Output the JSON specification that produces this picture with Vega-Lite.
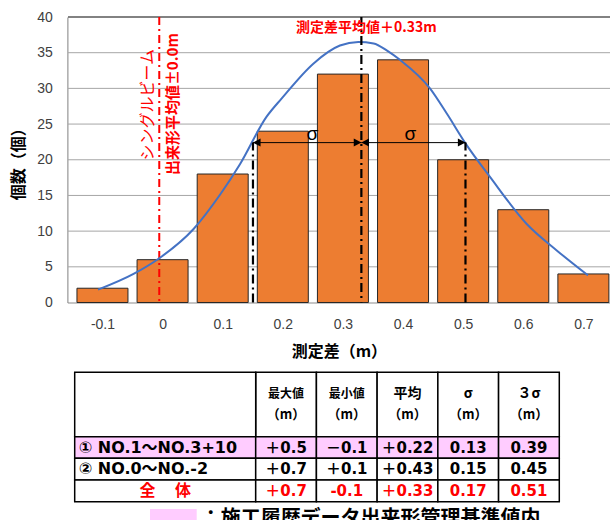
{
  "$schema": "https://vega.github.io/schema/vega-lite/v6.json",
  "width": 543,
  "height": 285.5,
  "autosize": {"type": "none"},
  "padding": {"left": 67.4, "top": 17, "right": 0, "bottom": 217.5},
  "background": "white",
  "config": {"view": {"stroke": null}, "font": "Noto Sans CJK JP"},
  "datasets": {
    "度数": [
      {"測定差": -0.1, "個数": 2},
      {"測定差": 0, "個数": 6},
      {"測定差": 0.1, "個数": 18},
      {"測定差": 0.2, "個数": 24},
      {"測定差": 0.3, "個数": 32},
      {"測定差": 0.4, "個数": 34},
      {"測定差": 0.5, "個数": 20},
      {"測定差": 0.6, "個数": 13},
      {"測定差": 0.7, "個数": 4}
    ],
    "分布曲線": [
      {"測定差": -0.1, "個数": 1.8},
      {"測定差": -0.042, "個数": 4.0},
      {"測定差": 0, "個数": 6.2},
      {"測定差": 0.056, "個数": 10.3},
      {"測定差": 0.1, "個数": 15.2},
      {"測定差": 0.132, "個数": 19.4},
      {"測定差": 0.175, "個数": 26.0},
      {"測定差": 0.2, "個数": 28.6},
      {"測定差": 0.252, "個数": 33.5},
      {"測定差": 0.295, "個数": 36.0},
      {"測定差": 0.325, "個数": 36.5},
      {"測定差": 0.35, "個数": 36.3},
      {"測定差": 0.372, "個数": 35.3},
      {"測定差": 0.393, "個数": 34.0},
      {"測定差": 0.442, "個数": 30.0},
      {"測定差": 0.47, "個数": 26.4},
      {"測定差": 0.5, "個数": 22.3},
      {"測定差": 0.54, "個数": 17.6},
      {"測定差": 0.6, "個数": 11.0},
      {"測定差": 0.649, "個数": 7.3},
      {"測定差": 0.7, "個数": 3.8}
    ],
    "目盛線": [
      {"目盛": 5, "測定差": -0.149}, {"目盛": 5, "測定差": 0.736},
      {"目盛": 10, "測定差": -0.149}, {"目盛": 10, "測定差": 0.736},
      {"目盛": 15, "測定差": -0.149}, {"目盛": 15, "測定差": 0.736},
      {"目盛": 20, "測定差": -0.149}, {"目盛": 20, "測定差": 0.736},
      {"目盛": 25, "測定差": -0.149}, {"目盛": 25, "測定差": 0.736},
      {"目盛": 30, "測定差": -0.149}, {"目盛": 30, "測定差": 0.736},
      {"目盛": 35, "測定差": -0.149}, {"目盛": 35, "測定差": 0.736}
    ],
    "枠": [
      {"目盛": 40, "測定差": -0.149}, {"目盛": 40, "測定差": 0.736}
    ],
    "σ区間": [
      {"始点": 0.153, "終点": 0.33},
      {"始点": 0.33, "終点": 0.5}
    ],
    "σ線": [
      {"位置": 0.153},
      {"位置": 0.5}
    ],
    "σ記号": [
      {"記号": "σ", "位置": 0.25},
      {"記号": "σ", "位置": 0.41}
    ],
    "平均値": [
      {"平均": 0.33, "ラベル": "測定差平均値＋0.33m"}
    ],
    "基準": [
      {"出来形平均値": 0, "行1": "シングルビーム", "行2": "出来形平均値±0.0m"}
    ],
    "集計表": [
      {"区分": "① NO.1～NO.3+10", "最大値": "＋0.5", "最小値": "－0.1", "平均": "＋0.22", "σ": "0.13", "３σ": "0.39", "基準値内": true, "全体": false},
      {"区分": "② NO.0～NO.-2", "最大値": "＋0.7", "最小値": "＋0.1", "平均": "＋0.43", "σ": "0.15", "３σ": "0.45", "基準値内": false, "全体": false},
      {"区分": "全　 体", "最大値": "＋0.7", "最小値": "-0.1", "平均": "＋0.33", "σ": "0.17", "３σ": "0.51", "基準値内": false, "全体": true}
    ]
  },
  "resolve": {"scale": {"x": "independent", "y": "independent"}},
  "layer": [
    {
      "data": {"name": "目盛線"},
      "mark": {"type": "line", "color": "#A6A6A6", "strokeWidth": 1},
      "encoding": {
        "x": {"field": "測定差", "type": "quantitative", "scale": {"domain": [-0.15, 0.7366], "nice": false, "zero": false}, "axis": null},
        "y": {"field": "目盛", "type": "quantitative", "scale": {"domain": [0, 40], "nice": false}, "axis": null},
        "detail": {"field": "目盛", "type": "nominal"}
      }
    },
    {
      "data": {"name": "枠"},
      "mark": {"type": "line", "color": "#595959", "strokeWidth": 1.5},
      "encoding": {
        "x": {"field": "測定差", "type": "quantitative", "scale": {"domain": [-0.15, 0.7366], "nice": false, "zero": false}, "axis": null},
        "y": {"field": "目盛", "type": "quantitative", "scale": {"domain": [0, 40], "nice": false}, "axis": null}
      }
    },
    {
      "data": {"name": "度数"},
      "mark": {"type": "bar", "orient": "vertical", "width": 51, "fill": "#ED7D31", "stroke": "#262626", "strokeWidth": 1},
      "encoding": {
        "x": {
          "field": "測定差", "type": "quantitative",
          "scale": {"domain": [-0.15, 0.7366], "nice": false, "zero": false},
          "axis": {
            "values": [-0.1, 0, 0.1, 0.2, 0.3, 0.4, 0.5, 0.6, 0.7],
            "labelExpr": "datum.value < 0 ? '-' + format(-datum.value, '.1f') : (datum.value == 0 ? '0' : format(datum.value, '.1f'))",
            "grid": false, "ticks": false, "tickSize": 0, "labelPadding": 15,
            "labelFont": "Liberation Sans", "labelFontSize": 14, "labelColor": "#404040",
            "labelFlush": false, "labelOverlap": false,
            "domainColor": "#8c8c8c",
            "title": "測定差（m）", "titleFontSize": 16, "titleFontWeight": "bold", "titleColor": "black", "titlePadding": 12
          }
        },
        "y": {
          "field": "個数", "type": "quantitative",
          "scale": {"domain": [0, 40], "nice": false},
          "axis": {
            "values": [0, 5, 10, 15, 20, 25, 30, 35, 40],
            "grid": false,
            "ticks": false, "tickSize": 0, "labelPadding": 15,
            "labelFont": "Liberation Sans", "labelFontSize": 14, "labelColor": "#404040",
            "domainColor": "#808080",
            "title": "個数（個）", "titleFontSize": 16, "titleFontWeight": "bold", "titleColor": "black", "titlePadding": 10
          }
        }
      }
    },
    {
      "data": {"name": "基準"},
      "mark": {"type": "rule", "color": "#FF0000", "strokeWidth": 2, "strokeDash": [8, 4, 2, 4]},
      "encoding": {
        "x": {"field": "出来形平均値", "type": "quantitative", "scale": {"domain": [-0.15, 0.7366], "nice": false, "zero": false}, "axis": null}
      }
    },
    {
      "data": {"name": "分布曲線"},
      "mark": {"type": "line", "interpolate": "monotone", "color": "#4472C4", "strokeWidth": 2},
      "encoding": {
        "x": {"field": "測定差", "type": "quantitative", "scale": {"domain": [-0.15, 0.7366], "nice": false, "zero": false}, "axis": null},
        "y": {"field": "個数", "type": "quantitative", "scale": {"domain": [0, 40], "nice": false}, "axis": null}
      }
    },
    {
      "data": {"name": "平均値"},
      "mark": {"type": "rule", "color": "black", "strokeWidth": 2.2, "strokeDash": [9, 4, 2, 4]},
      "encoding": {
        "x": {"field": "平均", "type": "quantitative", "scale": {"domain": [-0.15, 0.7366], "nice": false, "zero": false}, "axis": null}
      }
    },
    {
      "data": {"name": "σ線"},
      "mark": {"type": "rule", "color": "black", "strokeWidth": 2.2, "strokeDash": [9, 4, 2, 4]},
      "encoding": {
        "x": {"field": "位置", "type": "quantitative", "scale": {"domain": [-0.15, 0.7366], "nice": false, "zero": false}, "axis": null},
        "y": {"datum": 0, "type": "quantitative", "scale": {"domain": [0, 40], "nice": false}, "axis": null},
        "y2": {"datum": 22.4}
      }
    },
    {
      "data": {"name": "σ区間"},
      "mark": {"type": "rule", "color": "black", "strokeWidth": 1},
      "encoding": {
        "x": {"field": "始点", "type": "quantitative", "scale": {"domain": [-0.15, 0.7366], "nice": false, "zero": false}, "axis": null},
        "x2": {"field": "終点"},
        "y": {"datum": 22.4, "type": "quantitative", "scale": {"domain": [0, 40], "nice": false}, "axis": null}
      }
    },
    {
      "data": {"name": "σ区間"},
      "mark": {"type": "point", "shape": "M0,0L1.9,-1L1.9,1Z", "size": 64, "filled": true, "color": "black", "opacity": 1},
      "encoding": {
        "x": {"field": "始点", "type": "quantitative", "scale": {"domain": [-0.15, 0.7366], "nice": false, "zero": false}, "axis": null},
        "y": {"datum": 22.4, "type": "quantitative", "scale": {"domain": [0, 40], "nice": false}, "axis": null}
      }
    },
    {
      "data": {"name": "σ区間"},
      "mark": {"type": "point", "shape": "M0,0L-1.9,-1L-1.9,1Z", "size": 64, "filled": true, "color": "black", "opacity": 1},
      "encoding": {
        "x": {"field": "終点", "type": "quantitative", "scale": {"domain": [-0.15, 0.7366], "nice": false, "zero": false}, "axis": null},
        "y": {"datum": 22.4, "type": "quantitative", "scale": {"domain": [0, 40], "nice": false}, "axis": null}
      }
    },
    {
      "data": {"name": "σ記号"},
      "mark": {"type": "text", "font": "Liberation Sans", "fontSize": 19, "color": "black", "baseline": "middle"},
      "encoding": {
        "x": {"field": "位置", "type": "quantitative", "scale": {"domain": [-0.15, 0.7366], "nice": false, "zero": false}, "axis": null},
        "y": {"datum": 23.6, "type": "quantitative", "scale": {"domain": [0, 40], "nice": false}, "axis": null},
        "text": {"field": "記号"}
      }
    },
    {
      "data": {"name": "平均値"},
      "mark": {"type": "text", "fontSize": 14, "fontWeight": "bold", "color": "#FF0000", "baseline": "middle", "dx": 5},
      "encoding": {
        "x": {"field": "平均", "type": "quantitative", "scale": {"domain": [-0.15, 0.7366], "nice": false, "zero": false}, "axis": null},
        "y": {"datum": 38.4, "type": "quantitative", "scale": {"domain": [0, 40], "nice": false}, "axis": null},
        "text": {"field": "ラベル"}
      }
    },
    {
      "data": {"name": "基準"},
      "mark": {"type": "text", "angle": 270, "fontSize": 16, "color": "#FF0000", "baseline": "middle", "dy": -11},
      "encoding": {
        "x": {"field": "出来形平均値", "type": "quantitative", "scale": {"domain": [-0.15, 0.7366], "nice": false, "zero": false}, "axis": null},
        "y": {"datum": 27.7, "type": "quantitative", "scale": {"domain": [0, 40], "nice": false}, "axis": null},
        "text": {"field": "行1"}
      }
    },
    {
      "data": {"name": "基準"},
      "mark": {"type": "text", "angle": 270, "fontSize": 15, "fontWeight": "bold", "color": "#FF0000", "baseline": "middle", "dy": 14},
      "encoding": {
        "x": {"field": "出来形平均値", "type": "quantitative", "scale": {"domain": [-0.15, 0.7366], "nice": false, "zero": false}, "axis": null},
        "y": {"datum": 27.8, "type": "quantitative", "scale": {"domain": [0, 40], "nice": false}, "axis": null},
        "text": {"field": "行2"}
      }
    },
    {
      "data": {"name": "集計表"},
      "transform": [
        {"fold": ["最大値", "最小値", "平均", "σ", "３σ"], "as": ["列", "値"]},
        {"filter": "datum['全体']"}
      ],
      "encoding": {
        "x": {"field": "列", "type": "nominal", "sort": null, "scale": {"range": [188.3, 491.9], "paddingInner": 0, "paddingOuter": 0}, "axis": null},
        "y": {"datum": 0, "type": "quantitative", "scale": {"domain": [0, 1], "range": [355.3, 419.7]}, "axis": null}
      },
      "layer": [
        {
          "mark": {"type": "rect", "fill": "white", "stroke": "black", "strokeWidth": 1.5},
          "encoding": {"y2": {"datum": 1}}
        },
        {
          "mark": {"type": "text", "fontWeight": "bold", "color": "black", "baseline": "middle", "dy": -10.5},
          "encoding": {
            "y": {"datum": 0.5, "type": "quantitative", "scale": {"domain": [0, 1], "range": [355.3, 419.7]}, "axis": null},
            "text": {"field": "列"},
            "size": {"condition": {"test": "length(datum['列']) > 2", "value": 12}, "value": 14}
          }
        },
        {
          "mark": {"type": "text", "fontWeight": "bold", "color": "black", "baseline": "middle", "dy": 10.5, "fontSize": 13},
          "encoding": {
            "y": {"datum": 0.5, "type": "quantitative", "scale": {"domain": [0, 1], "range": [355.3, 419.7]}, "axis": null},
            "text": {"value": "（m）"}
          }
        }
      ]
    },
    {
      "data": {"name": "集計表"},
      "transform": [{"filter": "datum['全体']"}],
      "mark": {"type": "rect", "fill": "white", "stroke": "black", "strokeWidth": 1.5},
      "encoding": {
        "x": {"datum": 0, "type": "quantitative", "scale": {"domain": [0, 1], "range": [7.3, 188.3]}, "axis": null},
        "x2": {"datum": 1},
        "y": {"datum": 0, "type": "quantitative", "scale": {"domain": [0, 1], "range": [355.3, 419.7]}, "axis": null},
        "y2": {"datum": 1}
      }
    },
    {
      "data": {"name": "集計表"},
      "encoding": {
        "x": {"datum": 0, "type": "quantitative", "scale": {"domain": [0, 1], "range": [7.3, 188.3]}, "axis": null},
        "y": {"field": "区分", "type": "nominal", "sort": null, "scale": {"domain": ["① NO.1～NO.3+10", "② NO.0～NO.-2", "全　 体"], "range": [419.7, 484.7], "paddingInner": 0, "paddingOuter": 0}, "axis": null}
      },
      "layer": [
        {
          "mark": {"type": "rect", "stroke": "black", "strokeWidth": 1.5},
          "encoding": {
            "x2": {"datum": 1},
            "fill": {"condition": {"test": "datum['基準値内']", "value": "#FFCCFF"}, "value": "white"}
          }
        },
        {
          "transform": [{"filter": "!datum['全体']"}],
          "mark": {"type": "text", "align": "left", "dx": 4, "font": "DejaVu Sans, Noto Sans CJK JP", "fontSize": 16, "fontWeight": "bold", "color": "black"},
          "encoding": {"text": {"field": "区分"}}
        },
        {
          "transform": [{"filter": "datum['全体']"}],
          "mark": {"type": "text", "align": "center", "fontSize": 16, "fontWeight": "bold", "color": "#FF0000"},
          "encoding": {
            "x": {"datum": 0.5, "type": "quantitative", "scale": {"domain": [0, 1], "range": [7.3, 188.3]}, "axis": null},
            "text": {"field": "区分"}
          }
        }
      ]
    },
    {
      "data": {"name": "集計表"},
      "transform": [{"fold": ["最大値", "最小値", "平均", "σ", "３σ"], "as": ["列", "値"]}],
      "encoding": {
        "x": {"field": "列", "type": "nominal", "sort": null, "scale": {"range": [188.3, 491.9], "paddingInner": 0, "paddingOuter": 0}, "axis": null},
        "y": {"field": "区分", "type": "nominal", "sort": null, "scale": {"domain": ["① NO.1～NO.3+10", "② NO.0～NO.-2", "全　 体"], "range": [419.7, 484.7], "paddingInner": 0, "paddingOuter": 0}, "axis": null}
      },
      "layer": [
        {
          "mark": {"type": "rect", "stroke": "black", "strokeWidth": 1.5},
          "encoding": {
            "fill": {"condition": {"test": "datum['基準値内']", "value": "#FFCCFF"}, "value": "white"}
          }
        },
        {
          "mark": {"type": "text", "font": "DejaVu Sans, Noto Sans CJK JP", "fontSize": 15, "fontWeight": "bold"},
          "encoding": {
            "text": {"field": "値"},
            "color": {"condition": {"test": "datum['全体']", "value": "#FF0000"}, "value": "black"}
          }
        }
      ]
    },
    {
      "data": {"values": [{"凡例": "：施工履歴データ出来形管理基準値内"}]},
      "encoding": {
        "y": {"datum": 0, "type": "quantitative", "scale": {"domain": [0, 1], "range": [492, 512]}, "axis": null}
      },
      "layer": [
        {
          "mark": {"type": "rect", "fill": "#FFCCFF"},
          "encoding": {
            "x": {"datum": 0, "type": "quantitative", "scale": {"domain": [0, 1], "range": [82.6, 129.3]}, "axis": null},
            "x2": {"datum": 1},
            "y2": {"datum": 1}
          }
        },
        {
          "mark": {"type": "text", "align": "left", "baseline": "top", "dx": 4, "fontSize": 20, "fontWeight": "bold", "color": "black"},
          "encoding": {
            "x": {"datum": 1, "type": "quantitative", "scale": {"domain": [0, 1], "range": [82.6, 129.3]}, "axis": null},
            "text": {"field": "凡例"}
          }
        }
      ]
    }
  ]
}
